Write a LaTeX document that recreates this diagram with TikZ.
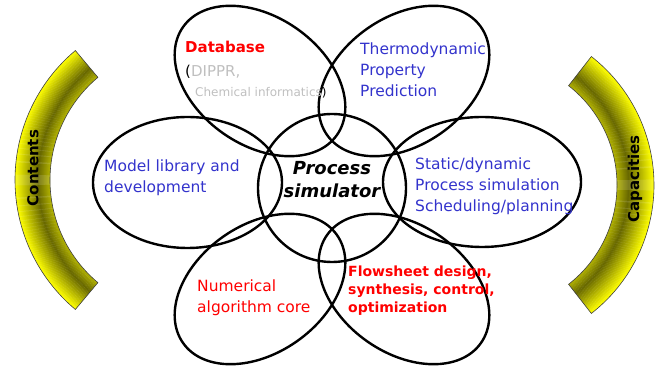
\documentclass[tikz,border=0pt]{standalone}
\usepackage{fontspec}
\setmainfont{DejaVu Sans}
\usetikzlibrary{shapes.geometric, calc}

\definecolor{txtblue}{RGB}{51,51,204}
\definecolor{txtgray}{RGB}{191,191,191}
\definecolor{bandlight}{RGB}{255,255,0}
\definecolor{banddark}{RGB}{104,104,0}

\begin{document}
\begin{tikzpicture}
    [x=1pt, y=1pt,
    petal/.style={ellipse, draw=black, line width=2.4pt, inner sep=0pt},
    leaf/.style={petal, minimum width=188pt, minimum height=128pt},
    hub/.style={circle, draw=black, line width=2.4pt, inner sep=0pt,
    minimum size=148pt},
    tag/.style={anchor=base west, inner sep=0pt, align=left},
    bluetag/.style={tag, text=txtblue, font=\fontsize{15.5}{21}\selectfont},
    redtag/.style={tag, text=red, font=\fontsize{15.5}{21}\selectfont},
    bandline/.style={draw=black!75, line width=0.6pt},
    bandtag/.style={rotate=90, inner sep=0pt,
    font=\fontsize{15}{18}\selectfont\bfseries}]

    \useasboundingbox (0,0) rectangle (664,369);

    % side bands
    \coordinate (lc) at (184,189);
    \coordinate (rc) at (491,184);
    \begin{scope}
        \clip (lc) ++(130:169pt) arc[start angle=130, end angle=230, radius=169pt]
            -- ($(lc)+(230:134pt)$) arc[start angle=230, end angle=130, radius=134pt] -- cycle;
        \foreach \k in {0,...,35} {
            \pgfmathsetmacro\p{\k<12 ? 50-50*\k/12 : 100*(\k-12)/23}
            \draw[bandlight!\p!banddark, line width=1.3pt] (lc) circle[radius={(134+\k)*1pt}];
        }
    \end{scope}
    \path[bandline] (lc) ++(130:169pt) arc[start angle=130, end angle=230, radius=169pt]
        -- ($(lc)+(230:134pt)$) arc[start angle=230, end angle=130, radius=134pt] -- cycle;

    \begin{scope}
        \clip (rc) ++(-52:163pt) arc[start angle=-52, end angle=52, radius=163pt]
            -- ($(rc)+(52:126pt)$) arc[start angle=52, end angle=-52, radius=126pt] -- cycle;
        \foreach \k in {0,...,37} {
            \pgfmathsetmacro\p{\k<12 ? 50-50*\k/12 : 100*(\k-12)/25}
            \draw[bandlight!\p!banddark, line width=1.3pt] (rc) circle[radius={(126+\k)*1pt}];
        }
    \end{scope}
    \path[bandline] (rc) ++(-52:163pt) arc[start angle=-52, end angle=52, radius=163pt]
        -- ($(rc)+(52:126pt)$) arc[start angle=52, end angle=-52, radius=126pt] -- cycle;

    \node[bandtag] (contents) at (33,201) {Contents};
    \node[bandtag] (capacities) at (635,190) {Capacities};

    % petals round the simulator
    \node[petal, minimum width=189pt, minimum height=131pt] (modlib) at (187.5,186.5) {};
    \node[petal, minimum width=198pt, minimum height=130pt] (procsim) at (482,187) {};
    \node[leaf, rotate=-35] (database) at (260,288) {};
    \node[leaf, rotate=35] (thermo) at (404,288) {};
    \node[leaf, rotate=35] (numeric) at (260,80) {};
    \node[leaf, rotate=-35] (flowsheet) at (404,80) {};
    \node[hub] (simulator) at (332,181) {};

    % texts
    \node[tag, text=red, font=\fontsize{15}{18}\selectfont\bfseries] (dbname) at (185,316) {Database};
    \node[tag, font=\fontsize{15}{18}\selectfont] (dbsrc) at (185,292) {(\textcolor{txtgray}{DIPPR,}};
    \node[tag, font=\fontsize{12}{14}\selectfont] (dbinfo) at (195,272) {\textcolor{txtgray}{Chemical informatics})};
    \node[bluetag] (thermotxt) at (360,272) {Thermodynamic\\Property\\Prediction};
    \node[bluetag] (modlibtxt) at (104,176) {Model library and\\development};
    \node[bluetag] (procsimtxt) at (415,157) {Static/dynamic\\Process simulation\\Scheduling/planning};
    \node[redtag] (numerictxt) at (197,56) {Numerical\\algorithm core};
    \node[tag, text=red, font=\fontsize{14}{18}\selectfont\bfseries] (flowsheettxt) at (348,56)
        {Flowsheet design,\\synthesis, control,\\optimization};
    \node[inner sep=0pt, anchor=base, align=center,
    font=\fontsize{18}{23}\selectfont\bfseries\itshape] (simtxt) at (332,171) {Process\\simulator};
\end{tikzpicture}
\end{document}
